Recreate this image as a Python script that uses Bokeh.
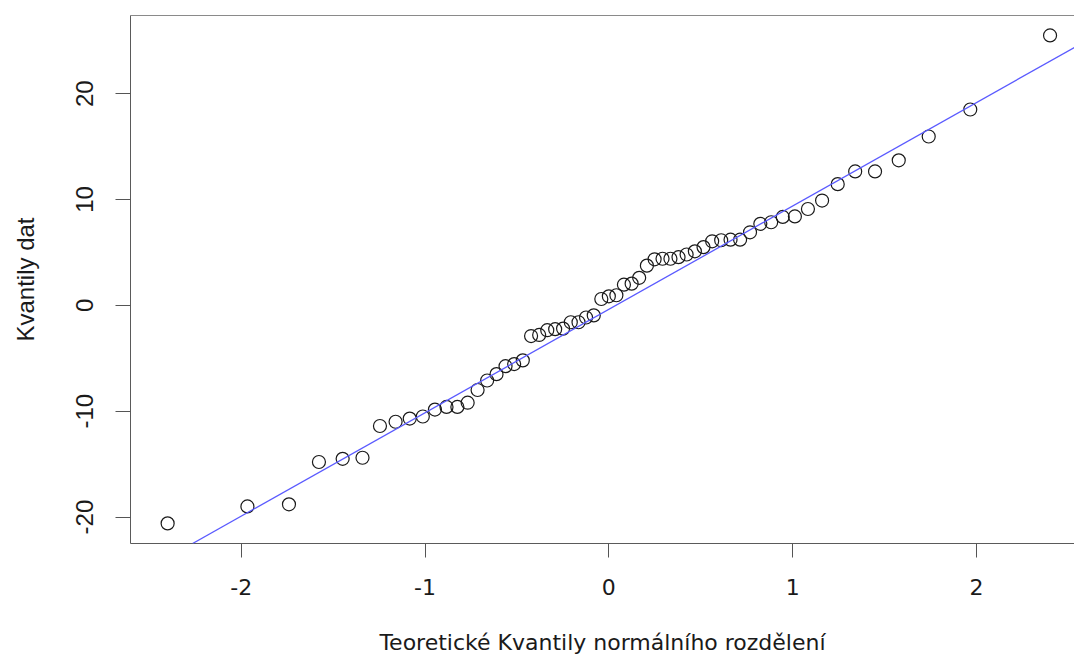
from bokeh.plotting import figure
from bokeh.models import LinearAxis, FixedTicker, Range1d, Slope
from bokeh.embed import file_html
from bokeh.resources import INLINE

# Theoretical normal quantiles (x) and sorted sample quantiles (y)
theoretical = [
    -2.400, -1.966, -1.740, -1.577, -1.448, -1.340, -1.245, -1.160, -1.083, -1.012,
    -0.946, -0.883, -0.824, -0.768, -0.714, -0.662, -0.611, -0.562, -0.515, -0.468,
    -0.423, -0.379, -0.335, -0.292, -0.249, -0.207, -0.165, -0.124, -0.082, -0.041,
    0.000, 0.041, 0.082, 0.124, 0.165, 0.207, 0.249, 0.292, 0.335, 0.379,
    0.423, 0.468, 0.515, 0.562, 0.611, 0.662, 0.714, 0.768, 0.824, 0.883,
    0.946, 1.012, 1.083, 1.160, 1.245, 1.340, 1.448, 1.577, 1.740, 1.966,
    2.400,
]
sample = [
    -20.6, -19.0, -18.8, -14.8, -14.5, -14.4, -11.4, -11.0, -10.7, -10.5,
    -9.85, -9.6, -9.6, -9.2, -8.0, -7.1, -6.5, -5.75, -5.55, -5.2,
    -2.9, -2.8, -2.35, -2.25, -2.2, -1.6, -1.6, -1.15, -0.95, 0.6,
    0.85, 0.95, 1.95, 2.05, 2.6, 3.75, 4.35, 4.4, 4.4, 4.55,
    4.8, 5.1, 5.5, 6.05, 6.15, 6.2, 6.2, 6.9, 7.7, 7.85,
    8.35, 8.4, 9.1, 9.9, 11.45, 12.65, 12.65, 13.7, 15.95, 18.5,
    25.5,
]
# reference line (qqline)
line_intercept = -0.38
line_slope = 9.77

x_ticks = [-2, -1, 0, 1, 2]
x_tick_labels = ["-2", "-1", "0", "1", "2"]
y_ticks = [-20, -10, 0, 10, 20]
y_tick_labels = ["-20", "-10", "0", "10", "20"]
x_label = "Teoretické Kvantily normálního rozdělení"
y_label = "Kvantily dat"

p = figure(width=1074, height=657, output_backend="svg", toolbar_location=None,
           x_range=Range1d(-2.602, 2.533), y_range=Range1d(-22.5, 27.38),
           x_axis_location=None, y_axis_location=None,
           min_border_left=130, min_border_right=0, min_border_top=15, min_border_bottom=114)
p.xgrid.visible = False
p.ygrid.visible = False
p.background_fill_color = "white"
p.border_fill_color = "white"
p.outline_line_color = None

xaxis = LinearAxis(ticker=FixedTicker(ticks=x_ticks))
xaxis.major_label_overrides = dict(zip(x_ticks, x_tick_labels))
xaxis.major_tick_out = 14
xaxis.major_tick_in = 0
xaxis.minor_tick_out = 0
xaxis.minor_tick_in = 0
xaxis.axis_line_color = "#5a5a5a"
xaxis.major_tick_line_color = "#555555"
xaxis.major_label_text_font = "DejaVu Sans"
xaxis.major_label_text_font_size = "22px"
xaxis.major_label_text_color = "#1a1a1a"
xaxis.major_label_standoff = 21
xaxis.axis_label = x_label
xaxis.axis_label_text_font = "DejaVu Sans"
xaxis.axis_label_text_font_size = "22px"
xaxis.axis_label_text_font_style = "normal"
xaxis.axis_label_text_color = "#1a1a1a"
xaxis.axis_label_standoff = 32
p.add_layout(xaxis, "below")

yaxis = LinearAxis(ticker=FixedTicker(ticks=y_ticks))
yaxis.major_label_overrides = dict(zip(y_ticks, y_tick_labels))
yaxis.major_tick_out = 15
yaxis.major_tick_in = 0
yaxis.minor_tick_out = 0
yaxis.minor_tick_in = 0
yaxis.axis_line_color = "#5a5a5a"
yaxis.major_tick_line_color = "#555555"
yaxis.major_label_orientation = "vertical"
yaxis.major_label_text_font = "Liberation Sans"
yaxis.major_label_text_font_size = "24px"
yaxis.major_label_text_color = "#1a1a1a"
yaxis.major_label_standoff = 22
yaxis.axis_label = y_label
yaxis.axis_label_text_font = "Liberation Sans"
yaxis.axis_label_text_font_size = "24px"
yaxis.axis_label_text_font_style = "normal"
yaxis.axis_label_text_color = "#1a1a1a"
yaxis.axis_label_standoff = 35
p.add_layout(yaxis, "left")

# top border of the box (no ticks, no labels)
top_border = LinearAxis(ticker=FixedTicker(ticks=[]))
top_border.major_tick_out = 0
top_border.major_tick_in = 0
top_border.minor_tick_out = 0
top_border.minor_tick_in = 0
top_border.major_label_standoff = 0
top_border.axis_line_color = "#8a8a8a"
p.add_layout(top_border, "above")

p.scatter(theoretical, sample, marker="circle", size=13, fill_color=None,
          line_color="#1a1a1a", line_width=1.2)
p.add_layout(Slope(gradient=line_slope, y_intercept=line_intercept,
                   line_color="#5a5aff", line_width=1.3))

open("out.html", "w").write(file_html(p, INLINE))
